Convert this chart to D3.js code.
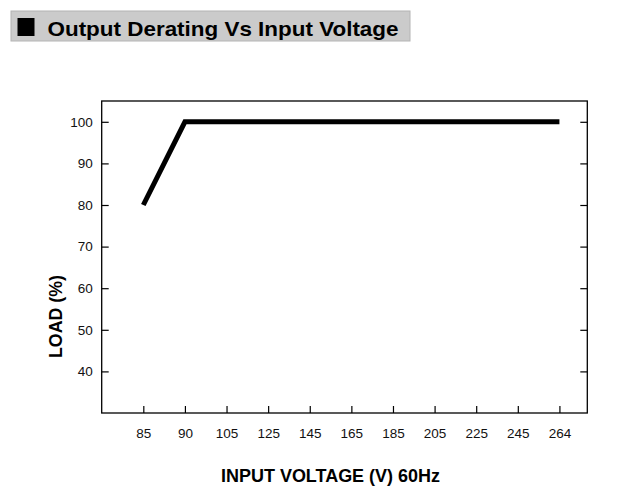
<!DOCTYPE html>
<html>
<head>
<meta charset="utf-8">
<script src="https://cdn.jsdelivr.net/npm/d3@7"></script>
<style>
  body { margin: 0; background: #fff; }
  svg { display: block; font-family: "Liberation Sans Narrow", "Liberation Sans", Arial, sans-serif; }
  .axis path { display: none; }
  .axis line { stroke: #000; stroke-width: 1.2; }
  .axis text { font-size: 13.5px; fill: #111; }
</style>
</head>
<body>
<svg id="chart"></svg>
<script>
// tick labels on the x axis (evenly spaced categories)
const VOLT_TICKS = ["85", "90", "105", "125", "145", "165", "185", "205", "225", "245", "264"];
// y ticks
const LOAD_TICKS = [40, 50, 60, 70, 80, 90, 100];
// derating curve
const CURVE_VOLTS = ["85", "90", "264"];
const CURVE_LOAD = [80, 100, 100];

const WIDTH = 640;
const HEIGHT = 504;
const PLOT = { left: 101.7, right: 587.3, top: 101, bottom: 413 };

let svg = d3.select("#chart")
    .attr("width", WIDTH)
    .attr("height", HEIGHT);

// title bar
svg.append("rect")
    .attr("x", 11).attr("y", 11)
    .attr("width", 399).attr("height", 30)
    .attr("fill", "#cbcbcb")
    .attr("stroke", "#b4b4b4");
svg.append("rect")
    .attr("x", 17.5).attr("y", 18)
    .attr("width", 17).attr("height", 18)
    .attr("fill", "#000");
svg.append("text")
    .attr("x", 47.5).attr("y", 35.5)
    .attr("textLength", 351)
    .attr("lengthAdjust", "spacingAndGlyphs")
    .style("font-size", "21px")
    .style("font-weight", "bold")
    .text("Output Derating Vs Input Voltage");

// scales: x on category index, a bit more room on the left than on the right
var x = d3.scaleLinear()
    .domain([-1, VOLT_TICKS.length - 1 + 0.67])
    .range([PLOT.left, PLOT.right]);

var y = d3.scaleLinear()
    .domain([30, 105])
    .range([PLOT.bottom, PLOT.top]);

// frame
svg.append("rect")
    .attr("x", PLOT.left).attr("y", PLOT.top)
    .attr("width", PLOT.right - PLOT.left)
    .attr("height", PLOT.bottom - PLOT.top)
    .attr("fill", "none")
    .attr("stroke", "#000")
    .attr("stroke-width", 1.3);

// axes, ticks pointing inward
svg.append("g")
    .attr("class", "axis")
    .attr("transform", "translate(0," + PLOT.bottom + ")")
    .call(d3.axisBottom(x)
        .tickValues(d3.range(VOLT_TICKS.length))
        .tickFormat(function(i) { return VOLT_TICKS[i]; })
        .tickSizeInner(-7)
        .tickSizeOuter(0)
        .tickPadding(15));

svg.append("g")
    .attr("class", "axis")
    .attr("transform", "translate(" + PLOT.left + ",0)")
    .call(d3.axisLeft(y)
        .tickValues(LOAD_TICKS)
        .tickSizeInner(-7)
        .tickSizeOuter(0)
        .tickPadding(9));

svg.append("g")
    .attr("class", "axis")
    .attr("transform", "translate(" + PLOT.right + ",0)")
    .call(d3.axisRight(y)
        .tickValues(LOAD_TICKS)
        .tickFormat("")
        .tickSizeInner(-7)
        .tickSizeOuter(0));

// derating line
var line = d3.line()
    .x(function(d) { return x(VOLT_TICKS.indexOf(d.v)); })
    .y(function(d) { return y(d.load); });

var pts = CURVE_VOLTS.map(function(v, i) { return { v: v, load: CURVE_LOAD[i] }; });

svg.append("path")
    .datum(pts)
    .attr("d", line)
    .attr("fill", "none")
    .attr("stroke", "#000")
    .attr("stroke-width", 5)
    .attr("stroke-linejoin", "miter");

// axis titles
svg.append("text")
    .attr("transform", "translate(62,316.5) rotate(-90)")
    .attr("text-anchor", "middle")
    .attr("textLength", 83)
    .attr("lengthAdjust", "spacingAndGlyphs")
    .style("font-size", "19px")
    .style("font-weight", "bold")
    .text("LOAD (%)");

svg.append("text")
    .attr("x", 221).attr("y", 482)
    .attr("textLength", 219)
    .attr("lengthAdjust", "spacingAndGlyphs")
    .style("font-size", "19px")
    .style("font-weight", "bold")
    .text("INPUT VOLTAGE (V) 60Hz");
</script>
</body>
</html>
